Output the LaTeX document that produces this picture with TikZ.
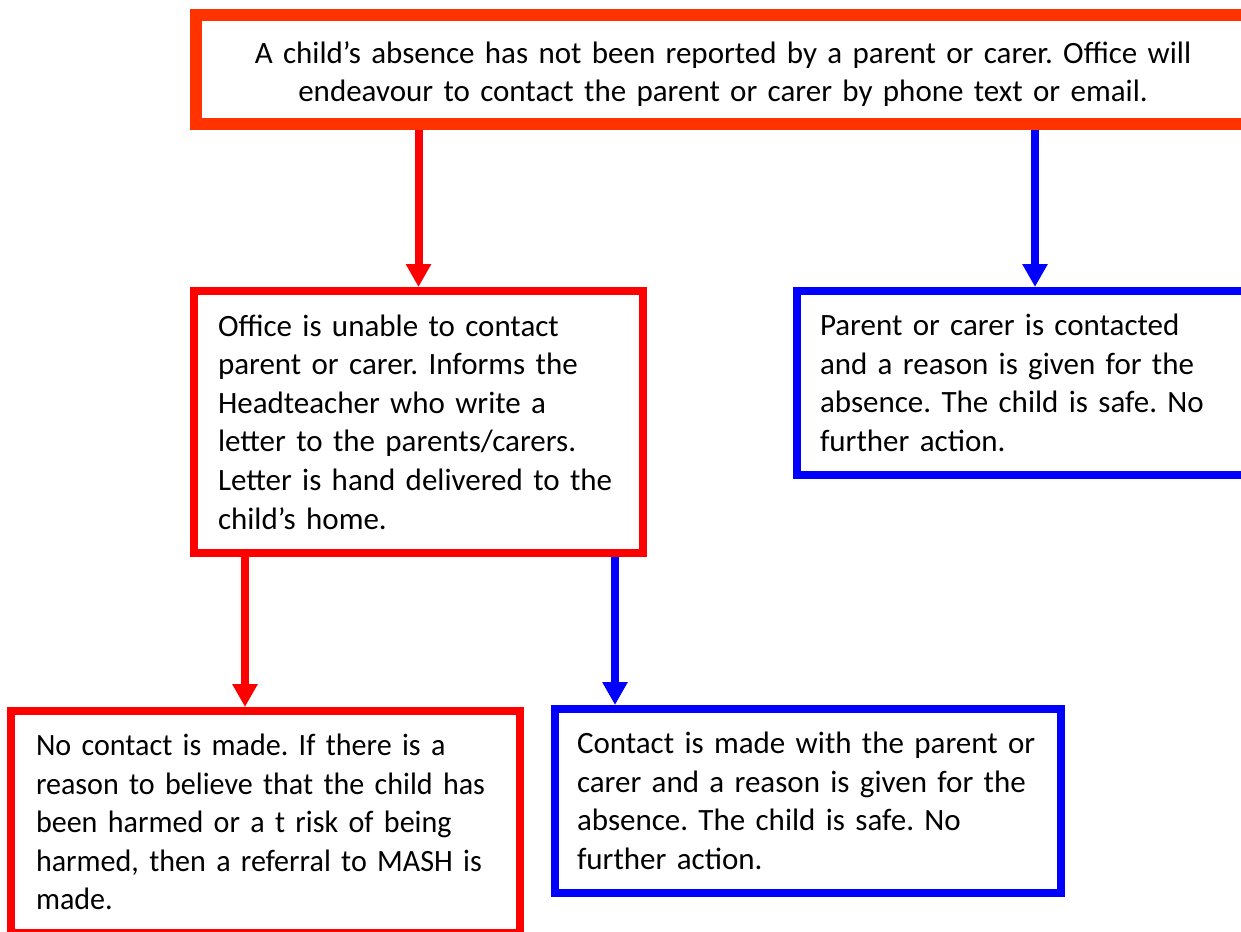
\documentclass[tikz,border=0pt]{standalone}
\usepackage{fontspec}
\setmainfont{Carlito}
\newfontfamily\narrowfont[FakeStretch=0.97]{Carlito}
\usetikzlibrary{arrows.meta}
\definecolor{toporange}{HTML}{FF3300}
\frenchspacing

\begin{document}
\begin{tikzpicture}[
    box/.style={draw, line width=4pt, fill=white, inner sep=0pt,
      font=\fontsize{15.5}{19.3}\selectfont},
    redbox/.style={box, draw=red, align=left},
    bluebox/.style={box, draw=blue, align=left},
    redarrow/.style={red, line width=4pt, -{Triangle[width=12pt,length=11.5pt]}},
    bluearrow/.style={blue, line width=4pt, -{Triangle[width=12pt,length=11.5pt]}}
  ]
  \path[fill=white, use as bounding box] (0,0) rectangle (620.5pt,-465.5pt);

  % Boites
  \node[box, draw=toporange, line width=6pt, align=center, text width=520pt,
        minimum width=527pt, minimum height=54.5pt] (start) at (361.5pt,-34.75pt)
    {\rule{0pt}{15.5pt}A child’s absence has not been reported by a parent or carer. Office will\\
     endeavour to contact the parent or carer by phone text or email.};

  \node[redbox, text width=200.5pt, minimum width=224.5pt, minimum height=131pt]
    (unable) at (209.25pt,-211pt)
    {Office is unable to contact\\ parent or carer. Informs the\\
     Headteacher who write a\\ letter to the parents/carers.\\
     Letter is hand delivered to the\\ child’s home.};

  \node[bluebox, text width=215pt, minimum width=238pt, minimum height=92pt]
    (contacted) at (517.5pt,-191.5pt)
    {Parent or carer is contacted\\ and a reason is given for the\\
     absence. The child is safe. No\\ further action.};

  \node[redbox, text width=229.5pt, minimum width=254.5pt, minimum height=111pt,
        font=\narrowfont\fontsize{15.5}{19.3}\selectfont]
    (mash) at (132.75pt,-411pt)
    {No contact is made. If there is a\\ reason to believe that the child has\\
     been harmed or a t risk of being\\ harmed, then a referral to MASH is\\ made.};

  \node[bluebox, text width=231pt, minimum width=253pt, minimum height=92pt]
    (safe) at (404pt,-400.5pt)
    {Contact is made with the parent or\\ carer and a reason is given for the\\
     absence. The child is safe. No\\ further action.};

  % Fleches
  \draw[redarrow] (unable.north |- start.south) -- (unable.north);
  \draw[bluearrow] (contacted.north |- start.south) -- (contacted.north);
  \draw[redarrow] ([xshift=-10.25pt]mash.north |- unable.south) -- ([xshift=-10.25pt]mash.north);
  \draw[bluearrow] ([xshift=-96.5pt]safe.north |- unable.south) -- ([xshift=-96.5pt]safe.north);
\end{tikzpicture}
\end{document}
